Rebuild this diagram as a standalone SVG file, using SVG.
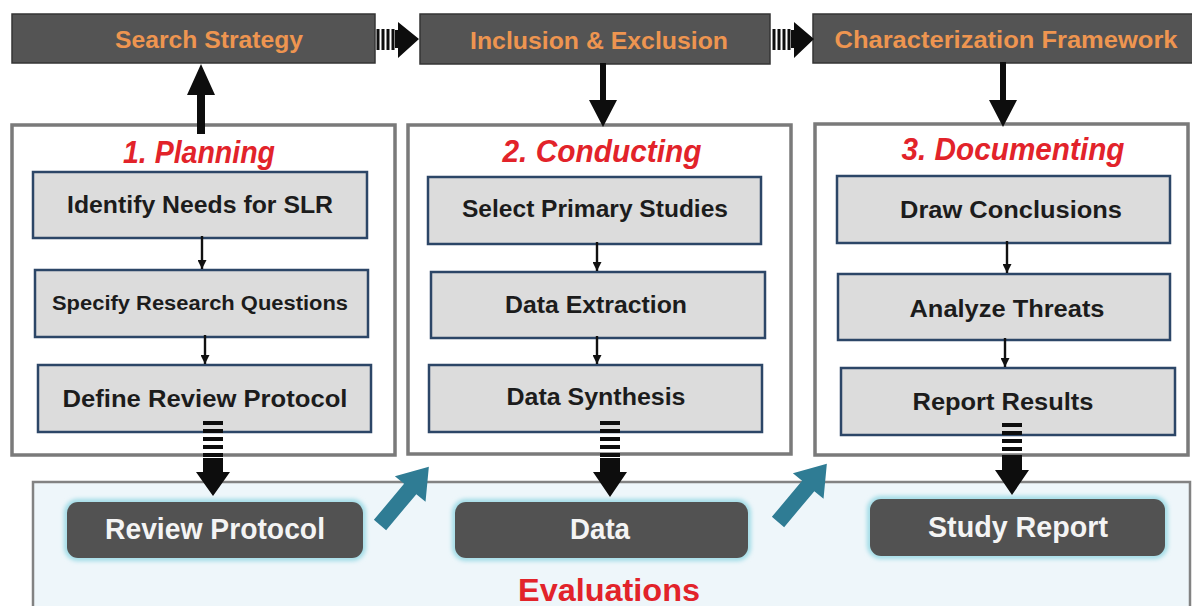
<svg xmlns="http://www.w3.org/2000/svg" width="1192" height="606" viewBox="0 0 1192 606">
<defs>
<style>
.bar{fill:#545454;stroke:#353535;stroke-width:1.5}
.bartxt{font-family:"Liberation Sans",Arial,sans-serif;font-weight:bold;font-size:24px;fill:#ee9550;text-anchor:middle}
.phase{fill:#ffffff;stroke:#7a7a7a;stroke-width:3.5}
.ptitle{font-family:"Liberation Sans",Arial,sans-serif;font-style:italic;font-weight:bold;font-size:32px;fill:#e2232a;text-anchor:middle}
.step{fill:#dcdcdc;stroke:#2c4667;stroke-width:2.5}
.steptxt{font-family:"Liberation Sans",Arial,sans-serif;font-weight:bold;font-size:23px;fill:#1c1c1c;text-anchor:middle}
.out{fill:#525252}
.glow{fill:none;stroke:#9fdbe6;stroke-width:6}
.outtxt{font-family:"Liberation Sans",Arial,sans-serif;font-weight:bold;font-size:30px;fill:#f4f4f4;text-anchor:middle}
.eval{fill:#eef6fa;stroke:#828282;stroke-width:2.5}
.evtxt{font-family:"Liberation Sans",Arial,sans-serif;font-weight:bold;font-size:32px;fill:#e2232a;text-anchor:middle}
.teal{fill:#2f7c94}
.blk{fill:#0d0d0d}
.thin{stroke:#111;stroke-width:2.4;fill:none}
.stripe{stroke:#0d0d0d;stroke-width:20;stroke-dasharray:4 4;fill:none}
.vstripe{stroke:#0d0d0d;stroke-width:3;fill:none}
</style>
<filter id="blur" x="-10%" y="-20%" width="120%" height="140%"><feGaussianBlur stdDeviation="2"/></filter>
<marker id="ah" viewBox="0 0 10 10" refX="10" refY="5" markerWidth="10" markerHeight="9" markerUnits="userSpaceOnUse" orient="auto"><path d="M0,0 L10,5 L0,10 z" fill="#111"/></marker>
</defs>
<rect width="1192" height="606" fill="#ffffff"/>

<g id="evaluations">
<rect class="eval" x="33" y="482" width="1157" height="140"/>
<text class="evtxt" x="609" y="601" textLength="182" lengthAdjust="spacingAndGlyphs">Evaluations</text>
</g>

<g id="planning">
<rect class="phase" x="12" y="125" width="383" height="330"/>
<text class="ptitle" x="199" y="163" textLength="152" lengthAdjust="spacingAndGlyphs">1. Planning</text>
</g>
<g id="conducting">
<rect class="phase" x="408" y="125" width="383" height="329"/>
<text class="ptitle" x="602" y="162" textLength="199" lengthAdjust="spacingAndGlyphs">2. Conducting</text>
</g>
<g id="documenting">
<rect class="phase" x="815" y="124" width="373" height="331"/>
<text class="ptitle" x="1013" y="160" textLength="223" lengthAdjust="spacingAndGlyphs">3. Documenting</text>
</g>

<g id="search-strategy">
<rect class="bar" x="12" y="14" width="363" height="49"/>
<text class="bartxt" x="209" y="48" textLength="188" lengthAdjust="spacingAndGlyphs">Search Strategy</text>
</g>
<g id="inclusion-exclusion">
<rect class="bar" x="420" y="14" width="350" height="50"/>
<text class="bartxt" x="599" y="49" textLength="258" lengthAdjust="spacingAndGlyphs">Inclusion &amp; Exclusion</text>
</g>
<g id="characterization-framework">
<rect class="bar" x="813" y="14" width="385" height="49"/>
<text class="bartxt" x="1006" y="48" textLength="343" lengthAdjust="spacingAndGlyphs">Characterization Framework</text>
</g>

<g id="identify-needs">
<rect class="step" x="33" y="172" width="334" height="66"/>
<text class="steptxt" x="200" y="213" textLength="266" lengthAdjust="spacingAndGlyphs">Identify Needs for SLR</text>
</g>
<g id="specify-rq">
<rect class="step" x="35" y="270" width="333" height="67"/>
<text class="steptxt" x="200" y="310" textLength="296" lengthAdjust="spacingAndGlyphs" style="font-size:20px">Specify Research Questions</text>
</g>
<g id="define-protocol">
<rect class="step" x="38" y="365" width="333" height="67"/>
<text class="steptxt" x="205" y="407" textLength="285" lengthAdjust="spacingAndGlyphs" style="font-size:24px">Define Review Protocol</text>
</g>

<g id="select-studies">
<rect class="step" x="428" y="177" width="333" height="67"/>
<text class="steptxt" x="595" y="217" textLength="266" lengthAdjust="spacingAndGlyphs">Select Primary Studies</text>
</g>
<g id="data-extraction">
<rect class="step" x="431" y="272" width="334" height="66"/>
<text class="steptxt" x="596" y="313" textLength="182" lengthAdjust="spacingAndGlyphs">Data Extraction</text>
</g>
<g id="data-synthesis">
<rect class="step" x="429" y="365" width="333" height="67"/>
<text class="steptxt" x="596" y="405" textLength="179" lengthAdjust="spacingAndGlyphs">Data Synthesis</text>
</g>

<g id="draw-conclusions">
<rect class="step" x="837" y="176" width="333" height="67"/>
<text class="steptxt" x="1011" y="218" textLength="222" lengthAdjust="spacingAndGlyphs">Draw Conclusions</text>
</g>
<g id="analyze-threats">
<rect class="step" x="838" y="274" width="332" height="66"/>
<text class="steptxt" x="1007" y="317" textLength="195" lengthAdjust="spacingAndGlyphs">Analyze Threats</text>
</g>
<g id="report-results">
<rect class="step" x="841" y="368" width="334" height="67"/>
<text class="steptxt" x="1003" y="410" textLength="181" lengthAdjust="spacingAndGlyphs">Report Results</text>
</g>

<g id="review-protocol">
<rect class="glow" x="67" y="502" width="296" height="56" rx="11" filter="url(#blur)"/>
<rect class="out" x="67" y="502" width="296" height="56" rx="11"/>
<text class="outtxt" x="215" y="539" textLength="220" lengthAdjust="spacingAndGlyphs">Review Protocol</text>
</g>
<g id="data">
<rect class="glow" x="455" y="502" width="293" height="56" rx="11" filter="url(#blur)"/>
<rect class="out" x="455" y="502" width="293" height="56" rx="11"/>
<text class="outtxt" x="600" y="539" textLength="60" lengthAdjust="spacingAndGlyphs">Data</text>
</g>
<g id="study-report">
<rect class="glow" x="870" y="499" width="295" height="57" rx="11" filter="url(#blur)"/>
<rect class="out" x="870" y="499" width="295" height="57" rx="11"/>
<text class="outtxt" x="1018" y="537" textLength="180" lengthAdjust="spacingAndGlyphs">Study Report</text>
</g>

<g id="connectors">
<path class="vstripe" d="M378,29 V50 M383,29 V50 M388,29 V50 M393,29 V50"/>
<path class="blk" d="M395,30 H398 V22 L419,39 L398,58 V48 H395 Z"/>
<path class="vstripe" d="M774,29 V50 M779,29 V50 M784,29 V50 M789,29 V50"/>
<path class="blk" d="M791,30 H794 V22 L814,39 L794,58 V48 H791 Z"/>

<path class="blk" d="M197,134 V95 H187 L201,64 L215,95 H205 V134 Z"/>
<path class="blk" d="M600,63 V100 H589 L603,127 L617,100 H606 V63 Z"/>
<path class="blk" d="M1000,62 V100 H989 L1003,127 L1017,100 H1006 V62 Z"/>

<line class="thin" x1="202" y1="236" x2="202" y2="269" marker-end="url(#ah)"/>
<line class="thin" x1="205" y1="335" x2="205" y2="364" marker-end="url(#ah)"/>
<line class="thin" x1="597" y1="242" x2="597" y2="271" marker-end="url(#ah)"/>
<line class="thin" x1="597" y1="336" x2="597" y2="364" marker-end="url(#ah)"/>
<line class="thin" x1="1007" y1="241" x2="1007" y2="273" marker-end="url(#ah)"/>
<line class="thin" x1="1005" y1="338" x2="1005" y2="367" marker-end="url(#ah)"/>

<line class="stripe" x1="213" y1="421" x2="213" y2="458"/>
<path class="blk" d="M203,458 H223 V472 H230 L213,496 L196,472 H203 Z"/>
<line class="stripe" x1="610" y1="421" x2="610" y2="458"/>
<path class="blk" d="M600,458 H620 V472 H627 L610,497 L593,472 H600 Z"/>
<line class="stripe" x1="1012" y1="423" x2="1012" y2="457"/>
<path class="blk" d="M1002,457 H1022 V470 H1029 L1012,495 L995,470 H1002 Z"/>

<path class="teal" transform="translate(380,525) rotate(-50)" d="M0,-8 H47 V-20 L76,0 L47,20 V8 H0 Z"/>
<path class="teal" transform="translate(778,522) rotate(-50)" d="M0,-8 H47 V-20 L76,0 L47,20 V8 H0 Z"/>
</g>
</svg>
